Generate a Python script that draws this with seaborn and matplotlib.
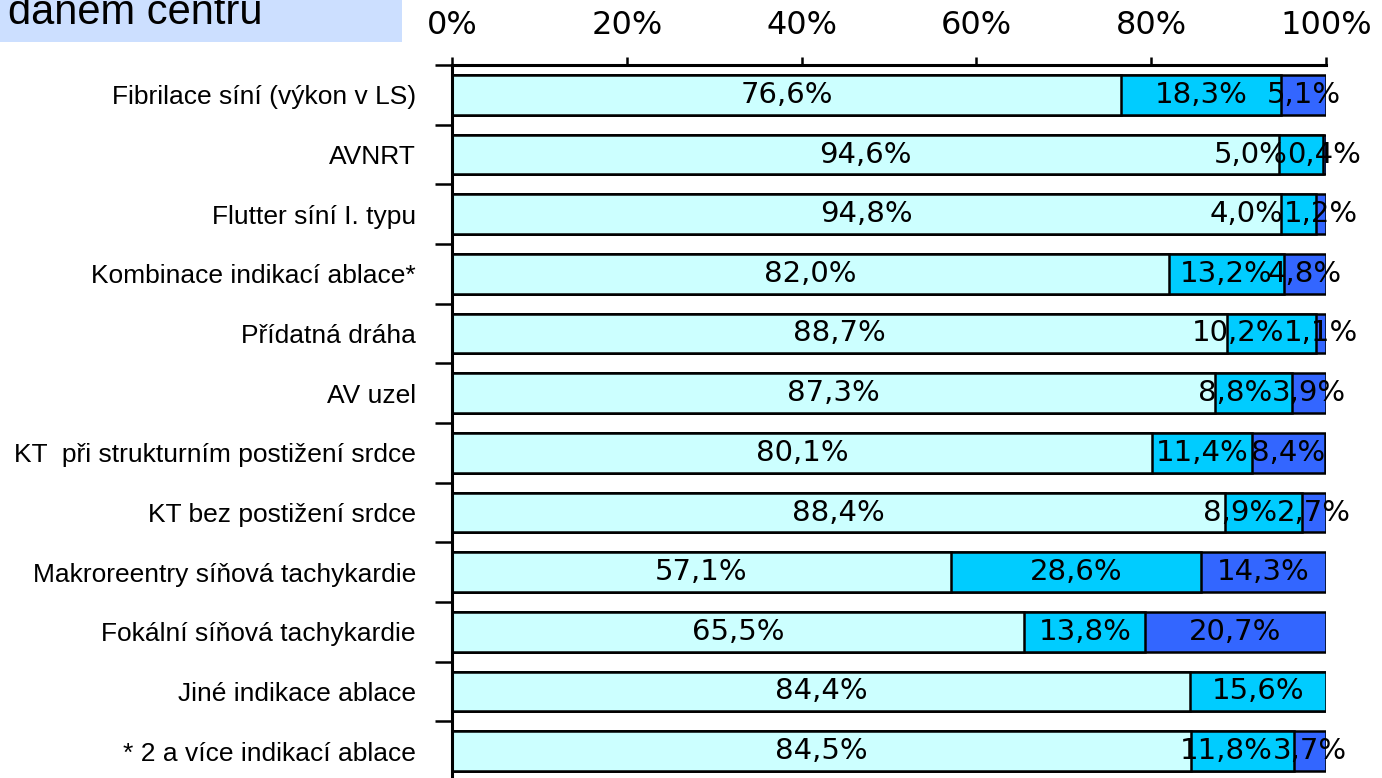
import numpy as np
import pandas as pd
import matplotlib
matplotlib.use('Agg')
import matplotlib.pyplot as plt
import seaborn as sns
from matplotlib.patches import Rectangle

# --- Data (podíly v %) ---
kategorie = [
    'Fibrilace síní (výkon v LS)',
    'AVNRT',
    'Flutter síní I. typu',
    'Kombinace indikací ablace*',
    'Přídatná dráha',
    'AV uzel',
    'KT  při strukturním postižení srdce',
    'KT bez postižení srdce',
    'Makroreentry síňová tachykardie',
    'Fokální síňová tachykardie',
    'Jiné indikace ablace',
    '* 2 a více indikací ablace',
]
seg1 = [76.6, 94.6, 94.8, 82.0, 88.7, 87.3, 80.1, 88.4, 57.1, 65.5, 84.4, 84.5]
seg2 = [18.3, 5.0, 4.0, 13.2, 10.2, 8.8, 11.4, 8.9, 28.6, 13.8, 15.6, 11.8]
seg3 = [5.1, 0.4, 1.2, 4.8, 1.1, 3.9, 8.4, 2.7, 14.3, 20.7, 0.0, 3.7]
x_ticks = [0, 20, 40, 60, 80, 100]
barvy = ['#CCFFFF', '#00CCFF', '#3366FF']
nadpis = 'daném centru'

df = pd.DataFrame({'kategorie': kategorie, 'seg1': seg1, 'seg2': seg2, 'seg3': seg3})
df['cum1'] = df['seg1']
df['cum2'] = df['seg1'] + df['seg2']
df['cum3'] = df['cum2'] + df['seg3']

sns.set_style('white')
plt.rcParams['font.family'] = ['Liberation Sans', 'DejaVu Sans']
plt.rcParams['text.color'] = 'black'
plt.rcParams['xtick.color'] = 'black'
plt.rcParams['ytick.color'] = 'black'

W, H = 1382, 778
fig = plt.figure(figsize=(W / 100, H / 100), dpi=100)
ax = fig.add_axes([452 / W, -3 / H, (1326 - 452) / W, (778 - 65 + 3) / H])

# stacked bars: kreslíme kumulativní součty odzadu
for col, barva in zip(['cum3', 'cum2', 'cum1'], barvy[::-1]):
    sns.barplot(data=df, x=col, y='kategorie', orient='h', color=barva,
                saturation=1, width=0.67, edgecolor='black', linewidth=1.8,
                errorbar=None, ax=ax)

ax.set_xlim(0, 100)
ax.set_ylim(len(kategorie) - 0.5, -0.5)
ax.set_xlabel('')
ax.set_ylabel('')

# osa x nahoře
ax.xaxis.tick_top()
ax.set_xticks(x_ticks, labels=[f'{v}%' for v in x_ticks])
ax.tick_params(axis='x', which='major', direction='out', length=6, width=1.8,
               pad=11, labelsize=23, color='black', labelcolor='black')
for t in ax.get_xticklabels():
    t.set_family('DejaVu Sans')

# osa y: čárky mezi kategoriemi, popisky uprostřed
ax.set_yticks(np.arange(-0.5, len(kategorie)), labels=[])
ax.set_yticks(range(len(kategorie)), labels=kategorie, minor=True)
ax.tick_params(axis='y', which='major', direction='out', length=12, width=1.8,
               color='black', left=True)
ax.tick_params(axis='y', which='minor', length=0, pad=26, labelsize=19,
               labelcolor='black')

for side in ['right', 'bottom']:
    ax.spines[side].set_visible(False)
for side in ['top', 'left']:
    ax.spines[side].set_linewidth(2.2)
    ax.spines[side].set_color('black')

# popisky hodnot
def fmt(v):
    return f'{v:.1f}%'.replace('.', ',')

popisky = []
for i in range(len(kategorie)):
    row = []
    start = 0
    for v in [seg1[i], seg2[i], seg3[i]]:
        if v > 0:
            t = ax.text(start + v / 2, i, fmt(v), ha='center', va='center',
                        fontsize=21, family='DejaVu Sans', color='black')
            row.append(t)
        else:
            row.append(None)
        start += v
    popisky.append(row)

# posun překrývajících se popisků doleva
fig.canvas.draw()
r = fig.canvas.get_renderer()
inv = ax.transData.inverted()
for i, (t1, t2, t3) in enumerate(popisky):
    if t2 is None or t3 is None:
        continue
    b2 = t2.get_window_extent(r)
    b3 = t3.get_window_extent(r)
    if b2.x1 > b3.x0 + 6:
        x_new = inv.transform((b3.x0, 0))[0]
        t2.set_x(x_new)
        t2.set_ha('right')

# rámeček s nadpisem vlevo nahoře
fig.patches.append(Rectangle((0, 1 - 42 / H), 402 / W, 42 / H + 0.01,
                             transform=fig.transFigure, facecolor='#CCDFFF',
                             edgecolor='none', zorder=0))
fig.text(8 / W, 1 - 24 / H, nadpis, ha='left', va='baseline', fontsize=30,
         color='black')

fig.savefig('out.png', dpi=100)
